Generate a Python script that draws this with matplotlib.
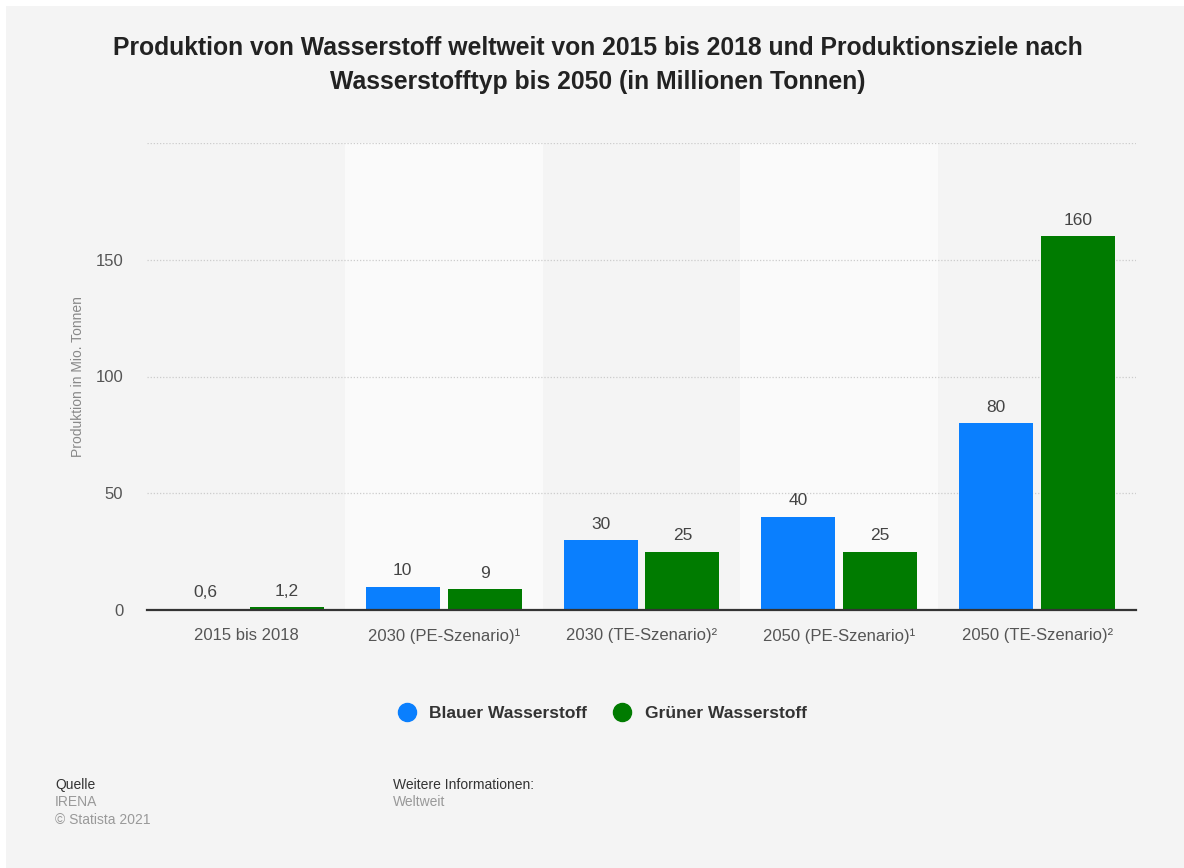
import numpy as np
import matplotlib
matplotlib.use("Agg")
import matplotlib.pyplot as plt
from matplotlib.lines import Line2D
from matplotlib.patches import Rectangle

plt.rcParams['font.family'] = ['Liberation Sans', 'DejaVu Sans']

categories = ["2015 bis 2018", "2030 (PE-Szenario)\u00b9", "2030 (TE-Szenario)\u00b2",
              "2050 (PE-Szenario)\u00b9", "2050 (TE-Szenario)\u00b2"]
blau = [0.6, 10, 30, 40, 80]
gruen = [1.2, 9, 25, 25, 160]
blau_labels = ["0,6", "10", "30", "40", "80"]
gruen_labels = ["1,2", "9", "25", "25", "160"]
series_names = ["Blauer Wasserstoff", "Grüner Wasserstoff"]
yticks = [0, 50, 100, 150]

BLUE = "#0a7ffe"
GREEN = "#007b00"
BG = "#f4f4f4"

fig = plt.figure(figsize=(11.84, 8.68), dpi=100, facecolor="white")
# grey panel with small white margin top/left
fig.patches.append(Rectangle((6 / 1184, 0), 1 - 6 / 1184, 1 - 6 / 868, transform=fig.transFigure,
                             facecolor=BG, edgecolor="none", zorder=-10))

ax = fig.add_axes([147 / 1184, 1 - 610 / 868, (1136 - 147) / 1184, (610 - 143) / 868])
ax.set_facecolor("none")

x = np.arange(len(categories))
w = 0.374
off = 0.207

for i in range(len(categories)):
    if i % 2 == 1:
        ax.axvspan(i - 0.5, i + 0.5, color="#fafafa", zorder=0, lw=0)

ax.bar(x - off, blau, width=w, color=BLUE, zorder=3, label=series_names[0])
ax.bar(x + off, gruen, width=w, color=GREEN, zorder=3, label=series_names[1])

for xi, v, t in zip(x - off, blau, blau_labels):
    ax.annotate(t, (xi, v), xytext=(0, 6), textcoords="offset points",
                ha="center", va="bottom", fontsize=12.5, color="#444444")
for xi, v, t in zip(x + off, gruen, gruen_labels):
    ax.annotate(t, (xi, v), xytext=(0, 6), textcoords="offset points",
                ha="center", va="bottom", fontsize=12.5, color="#444444")

ax.set_xlim(-0.5, len(categories) - 0.5)
ax.set_ylim(0, 200)
ax.set_yticks(yticks)
ax.set_xticks(x)
ax.set_xticklabels(categories)
for yv in [50, 100, 150, 200]:
    ax.axhline(yv, color="#cccccc", lw=0.9, ls=(0, (1, 1.5)), zorder=1)

for s in ["top", "right", "left"]:
    ax.spines[s].set_visible(False)
ax.spines["bottom"].set_color("#333333")
ax.spines["bottom"].set_linewidth(1.6)
ax.spines["bottom"].set_zorder(4)
ax.tick_params(axis="both", length=0, labelsize=12, labelcolor="#555555")
ax.tick_params(axis="y", pad=17)
ax.tick_params(axis="x", pad=13)
ax.set_ylabel("Produktion in Mio. Tonnen", fontsize=10, color="#888888", labelpad=8)

fig.text(0.505, 1 - 48 / 868, "Produktion von Wasserstoff weltweit von 2015 bis 2018 und Produktionsziele nach",
         ha="center", va="center", fontsize=17.8, fontweight="bold", color="#222222")
fig.text(0.505, 1 - 82 / 868, "Wasserstofftyp bis 2050 (in Millionen Tonnen)",
         ha="center", va="center", fontsize=17.8, fontweight="bold", color="#222222")

handles = [Line2D([], [], marker="o", ls="none", markersize=13, color=BLUE),
           Line2D([], [], marker="o", ls="none", markersize=13, color=GREEN)]
leg = fig.legend(handles, series_names, loc="center", bbox_to_anchor=(0.505, 1 - 713 / 868),
                 ncol=2, frameon=False, handletextpad=0.3, columnspacing=1.0,
                 prop={"weight": "bold", "size": 12.5})
for t in leg.get_texts():
    t.set_color("#333333")

fig.text(55 / 1184, 1 - 785 / 868, "Quelle", fontsize=10, color="#333333", va="center")
fig.text(55 / 1184, 1 - 802 / 868, "IRENA", fontsize=10, color="#999999", va="center")
fig.text(55 / 1184, 1 - 820 / 868, "\u00a9 Statista 2021", fontsize=10, color="#999999", va="center")
fig.text(393 / 1184, 1 - 785 / 868, "Weitere Informationen:", fontsize=10, color="#333333", va="center")
fig.text(393 / 1184, 1 - 802 / 868, "Weltweit", fontsize=10, color="#999999", va="center")

fig.savefig("out.png", dpi=100, facecolor=fig.get_facecolor())
